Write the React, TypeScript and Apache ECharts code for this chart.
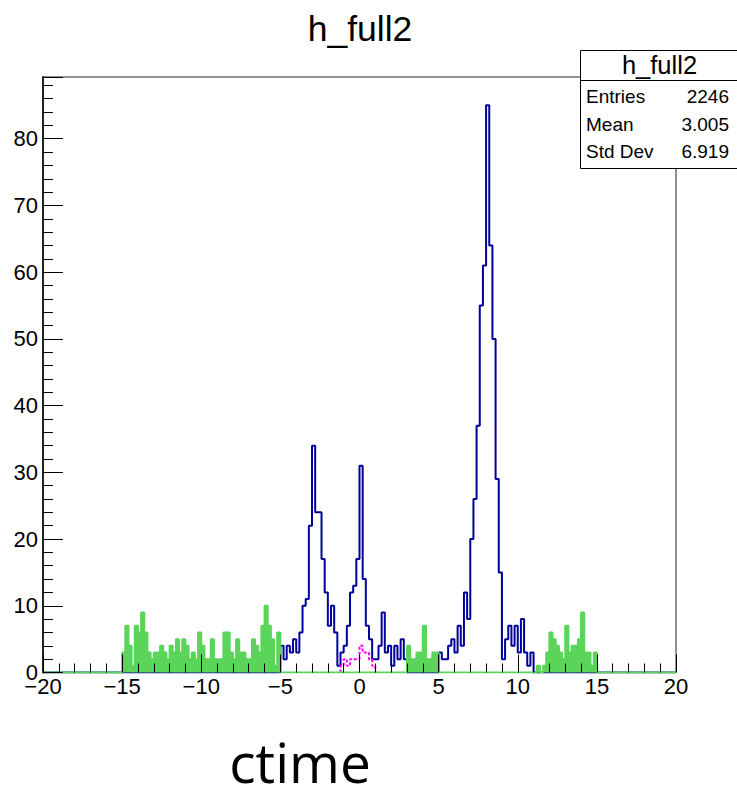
import React, { useEffect, useRef } from 'react';
import * as echarts from 'echarts';

// ---- axis setup ----
const BIN_WIDTH = 0.2;
const X_MIN = -20;
const X_MAX = 20;
const X_INTERVAL = 5;
const Y_MAX = 89.25;
const Y_INTERVAL = 10;

// ---- green histogram (side bands), bin width 0.2 ----
const greenLeftStart = -15.0;
const greenLeft = [
  3, 7, 4, 1, 7, 6, 9, 6, 3, 2,
  3, 3, 4, 3, 2, 4, 3, 5, 3, 5,
  4, 2, 3, 2, 6, 4, 2, 2, 5, 2,
  2, 2, 6, 6, 3, 2, 5, 3, 3, 2,
  2, 5, 4, 3, 7, 10, 7, 5, 1, 6,
];
const greenMidStart = 3.0;
const greenMid = [4, 2, 2, 3, 3, 7, 2, 2, 3, 3];
const greenRightStart = 11.0;
const greenRight = [0, 1, 0, 1, 3, 6, 5, 4, 3, 2, 7, 3, 4, 4, 5, 9, 3, 3, 1, 3];

// ---- blue histogram ----
const blueLeftStart = -5.0;
const blueLeft = [
  4, 2, 4, 3, 5, 3, 6, 10, 11, 22,
  34, 24, 24, 17, 12, 7, 10, 6, 1, 3,
  4, 7, 12, 13, 17, 31, 14, 7, 5, 2,
  2, 4, 9, 3, 4, 1, 4, 2, 5, 2,
];
const blueRightStart = 5.0;
const blueRight = [
  3, 2, 2, 4, 5, 3, 7, 4, 12, 8,
  20, 26, 37, 55, 61, 85, 64, 50, 29, 15,
  2, 5, 7, 4, 7, 3, 8, 3, 1, 3,
];

// ---- magenta histogram ----
const magentaStart = -1.2;
const magenta = [1, 2, 1, 2, 2, 2, 4, 3, 3, 2, 1];

// ---- texts ----
const titleText = 'h_full2';
const xTitle = 'ctime';
const statsTitle = 'h_full2';
const statsLabels = ['Entries', 'Mean', 'Std Dev'];
const statsValues = ['2246', '3.005', '6.919'];

const FONT = '"Liberation Sans", Arial, Helvetica, sans-serif';
const GREEN = '#5ad55a';
const BLUE = '#00009a';
const MAGENTA = '#ff00ff';

function fillBins(segments: [number, number[]][]): number[] {
  const n = Math.round((X_MAX - X_MIN) / BIN_WIDTH);
  const arr = new Array(n).fill(0);
  for (const [start, vals] of segments) {
    const off = Math.round((start - X_MIN) / BIN_WIDTH);
    vals.forEach((v, i) => {
      arr[off + i] = v;
    });
  }
  return arr;
}

function stepPoints(start: number, counts: number[]): number[][] {
  const pts: number[][] = [[start, 0]];
  counts.forEach((c, i) => pts.push([+(start + i * BIN_WIDTH).toFixed(4), c]));
  pts.push([+(start + counts.length * BIN_WIDTH).toFixed(4), 0]);
  return pts;
}

const greenFull = fillBins([
  [greenLeftStart, greenLeft],
  [greenMidStart, greenMid],
  [greenRightStart, greenRight],
]);
const blueFull = fillBins([
  [blueLeftStart, blueLeft],
  [blueRightStart, blueRight],
]);

const fmtX = (v: number) => (v < 0 ? '\u2212' + Math.abs(v) : String(v));

const option: any = {
  animation: false,
  backgroundColor: '#ffffff',
  grid: {
    left: 43,
    right: 61,
    top: 77,
    bottom: 117.5,
    show: true,
    borderColor: '#222',
    borderWidth: 1,
    backgroundColor: 'transparent',
    outerBoundsMode: 'none',
  },
  xAxis: {
    type: 'value',
    min: X_MIN,
    max: X_MAX,
    interval: X_INTERVAL,
    z: 10,
    axisLine: { show: false, onZero: false },
    axisTick: { show: true, inside: true, length: 18, lineStyle: { color: '#000', width: 1 } },
    minorTick: { show: true, splitNumber: 5, length: 9, lineStyle: { color: '#000', width: 1 } },
    splitLine: { show: false },
    axisLabel: {
      show: true,
      margin: 3,
      color: '#000',
      fontSize: 22,
      fontFamily: FONT,
      showMinLabel: true,
      showMaxLabel: true,
      formatter: fmtX,
    },
  },
  yAxis: [
    {
      type: 'value',
      min: 0,
      max: Y_MAX,
      interval: 2,
      position: 'left',
      offset: 0,
      z: 10,
      axisLine: { show: true, onZero: false, lineStyle: { color: '#222', width: 2 } },
      axisTick: { show: true, inside: true, length: 10, lineStyle: { color: '#000', width: 1 } },
      axisLabel: { show: false },
      splitLine: { show: false },
    },
    {
      type: 'value',
      min: 0,
      max: Y_MAX,
      interval: Y_INTERVAL,
      position: 'left',
      offset: 0,
      z: 10,
      axisLine: { show: false, onZero: false },
      axisTick: { show: true, inside: true, length: 20, lineStyle: { color: '#000', width: 1 } },
      splitLine: { show: false },
      axisLabel: {
        show: true,
        margin: 5,
        color: '#000',
        fontSize: 22,
        fontFamily: FONT,
        formatter: (v: number) => (Math.abs(v % Y_INTERVAL) < 1e-9 ? String(v) : ''),
      },
    },
  ],
  series: [
    {
      type: 'line',
      name: 'blue',
      step: 'end',
      yAxisIndex: 0,
      data: stepPoints(X_MIN, blueFull),
      showSymbol: false,
      silent: true,
      z: 3,
      lineStyle: { color: BLUE, width: 2 },
    },
    {
      type: 'line',
      name: 'magenta',
      step: 'end',
      yAxisIndex: 0,
      data: stepPoints(magentaStart, magenta),
      showSymbol: false,
      silent: true,
      z: 4,
      lineStyle: { color: MAGENTA, width: 2, type: [3, 2] },
    },
    {
      type: 'line',
      name: 'green',
      step: 'end',
      yAxisIndex: 0,
      data: stepPoints(X_MIN, greenFull),
      showSymbol: false,
      silent: true,
      z: 5,
      lineStyle: { color: GREEN, width: 2 },
      areaStyle: { color: GREEN, opacity: 1, origin: 0 },
    },
  ],
  graphic: [
    {
      type: 'text',
      x: 360,
      y: 29,
      z: 100,
      style: { text: titleText, fill: '#000', fontSize: 35.5, fontFamily: FONT, align: 'center', verticalAlign: 'middle' },
    },
    {
      type: 'rect',
      z: 100,
      shape: { x: 580.5, y: 50.5, width: 170, height: 118 },
      style: { fill: '#fff', stroke: '#000', lineWidth: 1 },
    },
    {
      type: 'line',
      z: 101,
      shape: { x1: 580.5, y1: 80.5, x2: 737, y2: 80.5 },
      style: { stroke: '#000', lineWidth: 1 },
    },
    {
      type: 'text',
      x: 659.5,
      y: 65,
      z: 102,
      style: { text: statsTitle, fill: '#000', fontSize: 25.5, fontFamily: FONT, align: 'center', verticalAlign: 'middle' },
    },
    ...statsLabels.map((t, i) => ({
      type: 'text',
      x: 586,
      y: 96.5 + i * 27.5,
      z: 102,
      style: { text: t, fill: '#000', fontSize: 19, fontFamily: FONT, align: 'left', verticalAlign: 'middle' },
    })),
    ...statsValues.map((t, i) => ({
      type: 'text',
      x: 729,
      y: 96.5 + i * 27.5,
      z: 102,
      style: { text: t, fill: '#000', fontSize: 19, fontFamily: FONT, align: 'right', verticalAlign: 'middle' },
    })),
    {
      type: 'text',
      x: 300,
      y: 761,
      z: 100,
      style: {
        text: xTitle,
        fill: '#000',
        fontSize: 55,
        lineHeight: 46,
        fontFamily: '"Open Sans", "Noto Sans", sans-serif',
        align: 'center',
        verticalAlign: 'middle',
      },
    },
  ],
};

export default function App() {
  const ref = useRef<HTMLDivElement>(null);
  useEffect(() => {
    if (!ref.current) return;
    const chart = echarts.init(ref.current, null, { renderer: 'svg' });
    chart.setOption(option);
    return () => chart.dispose();
  }, []);
  return (
    <div
      ref={ref}
      style={{ position: 'fixed', left: 0, top: 0, width: 737, height: 790, background: '#fff' }}
    />
  );
}
